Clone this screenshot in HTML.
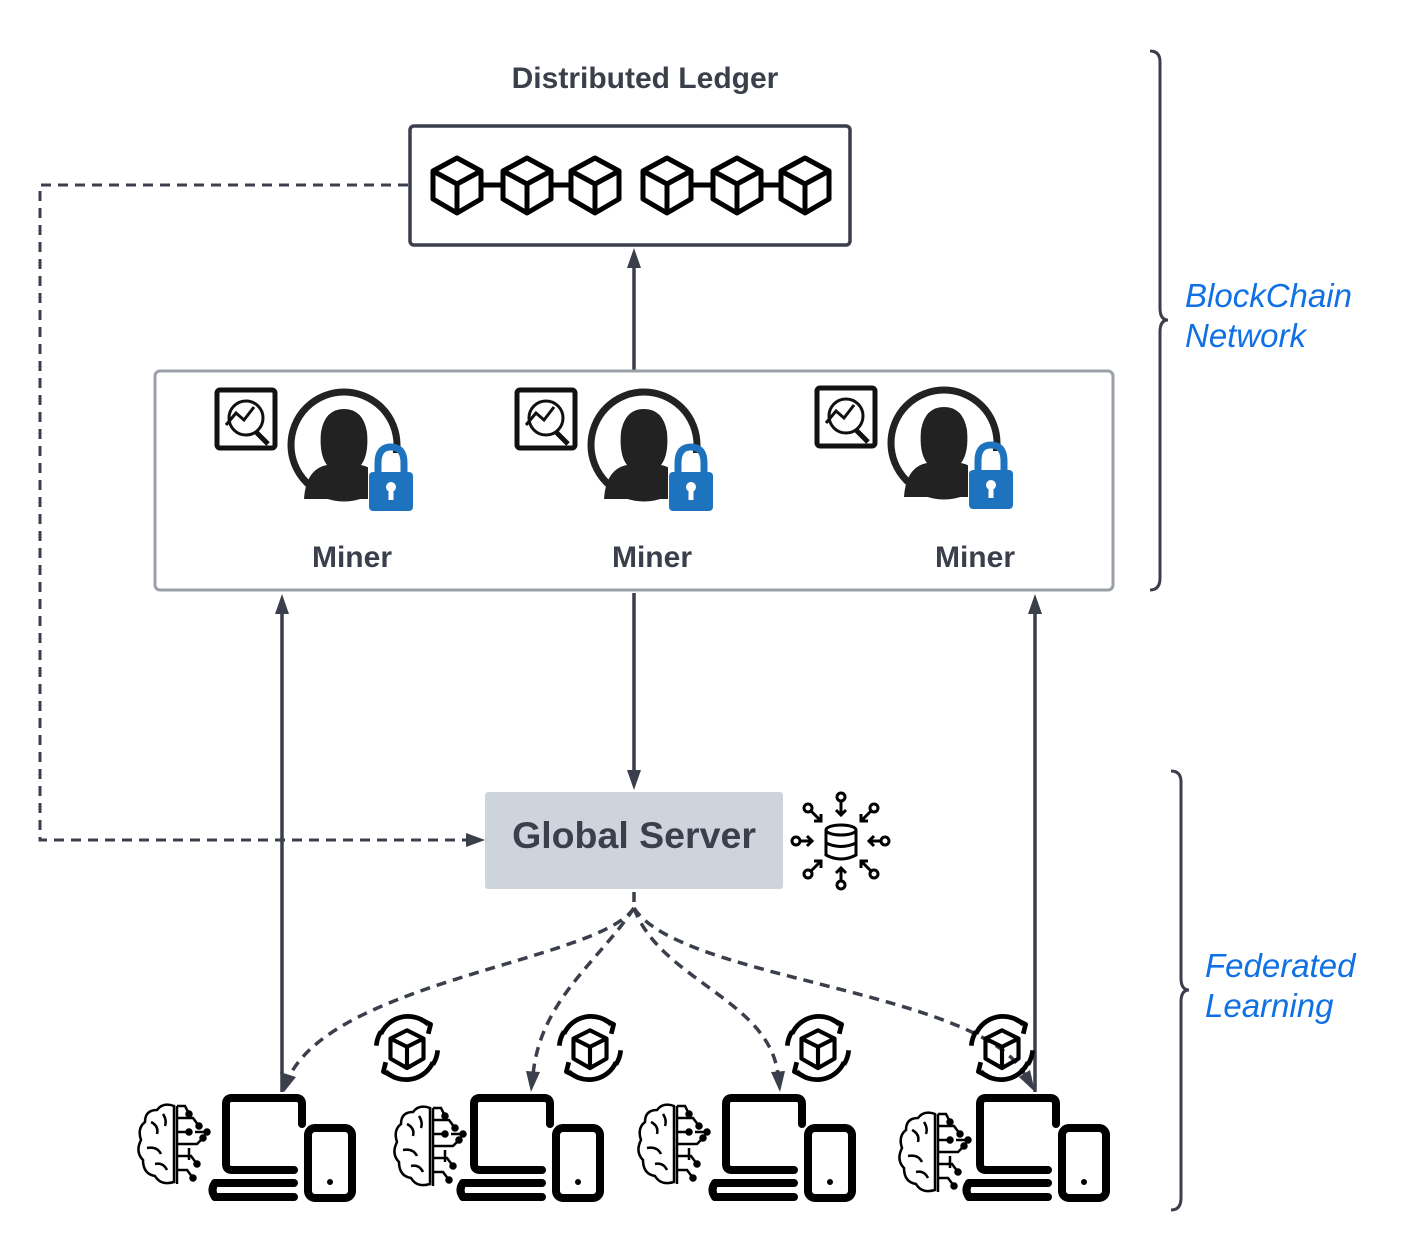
<!DOCTYPE html>
<html><head><style>
html,body{margin:0;padding:0;background:#fff;}
svg{display:block;font-family:"Liberation Sans",Arial,sans-serif;}
</style></head><body>
<svg width="1410" height="1255" viewBox="0 0 1410 1255" xmlns="http://www.w3.org/2000/svg">
<defs>
<g id="cube" fill="none" stroke="#000" stroke-width="5" stroke-linejoin="round">
<path d="M0,-27 L-24,-14 L-24,14 L0,28 L24,14 L24,-14 Z"/>
<path d="M-24,-14 L0,-1 L24,-14 M0,-1 L0,28"/>
</g>
<g id="miner">
<rect x="3" y="3" width="58" height="58" rx="3" fill="#fff" stroke="#111" stroke-width="5"/>
<circle cx="32" cy="31" r="17" fill="none" stroke="#111" stroke-width="3"/>
<path d="M12,38 L22,26 L30,33 L40,20" fill="none" stroke="#111" stroke-width="3"/>
<path d="M41,44 L54,57" stroke="#111" stroke-width="5"/>
<circle cx="130" cy="58" r="53" fill="none" stroke="#222" stroke-width="7"/>
<path d="M90,112 Q92,82 113,78 Q105,68 107,45 Q111,22 130,22 Q149,22 153,45 Q155,68 147,78 Q168,82 170,112 Z" fill="#222"/>
<rect x="154" y="66" width="46" height="58" rx="5" fill="#fff"/>
<path d="M164,86 L164,76 Q164,60 177,60 Q190,60 190,76 L190,86" fill="none" stroke="#1e73be" stroke-width="7"/>
<rect x="155" y="85" width="44" height="39" rx="4" fill="#1e73be"/>
<circle cx="177" cy="100" r="5" fill="#fff"/>
<rect x="174.5" y="100" width="5" height="13" fill="#fff"/>
</g>
<g id="dev" fill="none" stroke="#000" stroke-width="8" stroke-linecap="round" stroke-linejoin="round">
<path d="M90,30 L90,10 Q90,4 84,4 L20,4 Q14,4 14,10 L14,70 Q14,76 20,76 L82,76"/>
<path d="M3,89 L82,89 M3,103 L82,103"/>
<path d="M3,89 Q-2,96 3,103" />
<rect x="96" y="34" width="44" height="70" rx="7"/>
<circle cx="118" cy="88" r="3" fill="#000" stroke="none"/>
</g>
<g id="brain" fill="none" stroke="#000" stroke-width="2.5">
<path d="M37,4 Q26,0 20,8 Q8,8 8,20 Q0,26 4,38 Q-2,50 6,58 Q6,72 18,74 Q24,84 37,80 Z"/>
<path d="M14,20 Q22,24 20,32 M10,46 Q20,44 24,52 M18,62 Q26,60 30,68 M26,12 Q30,18 28,24"/>
<path d="M40,4 L48,4 L52,12 M40,16 L56,16 L62,24 M40,30 L52,30 M40,42 L60,42 L66,36 M40,54 L54,54 L60,62 M40,68 L50,68 L56,76 M58,30 L70,30 M52,46 L52,58"/>
<path d="M40,4 L40,82"/>
<circle cx="52" cy="12" r="2.5" fill="#000"/><circle cx="62" cy="24" r="2.5" fill="#000"/><circle cx="52" cy="30" r="2.5" fill="#000"/><circle cx="66" cy="36" r="2.5" fill="#000"/><circle cx="60" cy="62" r="2.5" fill="#000"/><circle cx="56" cy="76" r="2.5" fill="#000"/><circle cx="70" cy="30" r="2.5" fill="#000"/>
</g>
<g id="sync" fill="none" stroke="#000" stroke-linejoin="round" transform="scale(1.18)">
<path d="M-22,-12 A25,25 0 0 1 18,-20" stroke-width="4"/>
<path d="M22,12 A25,25 0 0 1 -18,20" stroke-width="4"/>
<path d="M-26,-2 A27,27 0 0 1 -22,-14" stroke-width="4"/>
<path d="M26,2 A27,27 0 0 1 22,14" stroke-width="4"/>
<path d="M12,-24 L20,-20 L18,-12" stroke-width="4"/>
<path d="M-12,24 L-20,20 L-18,12" stroke-width="4"/>
<path d="M0,-15 L-14,-8 L-14,9 L0,17 L14,9 L14,-8 Z M-14,-8 L0,-1 L14,-8 M0,-1 L0,17" stroke-width="3.5"/>
</g>
</defs>

<text x="645" y="88" text-anchor="middle" font-size="30" font-weight="bold" fill="#3a3f4b">Distributed Ledger</text>
<rect x="410" y="126" width="440" height="119" rx="4" fill="#fff" stroke="#3a3f4b" stroke-width="3.5"/>
<g stroke="#000" stroke-width="5">
<line x1="480" y1="185" x2="503" y2="185"/><line x1="550" y1="185" x2="572" y2="185"/>
<line x1="690" y1="185" x2="713" y2="185"/><line x1="760" y1="185" x2="782" y2="185"/>
</g>
<use href="#cube" x="457" y="185"/><use href="#cube" x="527" y="185"/><use href="#cube" x="595" y="185"/>
<use href="#cube" x="667" y="185"/><use href="#cube" x="737" y="185"/><use href="#cube" x="805" y="185"/>

<line x1="634" y1="370" x2="634" y2="262" stroke="#3a3f4b" stroke-width="3.5"/>
<path d="M627,268 L634,248 L641,268 Z" fill="#3a3f4b"/>

<rect x="155" y="371" width="958" height="219" rx="5" fill="#fff" stroke="#9aa0a8" stroke-width="3"/>
<use href="#miner" x="214" y="387"/>
<use href="#miner" x="514" y="387"/>
<use href="#miner" x="814" y="385"/>
<text x="352" y="567" text-anchor="middle" font-size="30" font-weight="bold" fill="#3a3f4b">Miner</text>
<text x="652" y="567" text-anchor="middle" font-size="30" font-weight="bold" fill="#3a3f4b">Miner</text>
<text x="975" y="567" text-anchor="middle" font-size="30" font-weight="bold" fill="#3a3f4b">Miner</text>

<path d="M1150,51 Q1160,51 1160,62 L1160,308 Q1160,320 1168,320 Q1160,320 1160,332 L1160,578 Q1160,590 1150,590" fill="none" stroke="#3a3f4b" stroke-width="3"/>
<path d="M1171,771 Q1181,771 1181,782 L1181,978 Q1181,990 1189,990 Q1181,990 1181,1002 L1181,1198 Q1181,1210 1171,1210" fill="none" stroke="#3a3f4b" stroke-width="3"/>
<text x="1185" y="307" font-size="33" font-style="italic" fill="#1071e5">BlockChain</text>
<text x="1185" y="347" font-size="33" font-style="italic" fill="#1071e5">Network</text>
<text x="1205" y="977" font-size="33" font-style="italic" fill="#1071e5">Federated</text>
<text x="1205" y="1017" font-size="33" font-style="italic" fill="#1071e5">Learning</text>

<g stroke="#3a3f4b" stroke-width="3.5" fill="none">
<line x1="282" y1="1092" x2="282" y2="610"/>
<line x1="1035" y1="1092" x2="1035" y2="610"/>
<line x1="634" y1="593" x2="634" y2="775"/>
</g>
<g fill="#3a3f4b">
<path d="M275,614 L282,594 L289,614 Z"/>
<path d="M1028,614 L1035,594 L1042,614 Z"/>
<path d="M627,770 L634,790 L641,770 Z"/>
</g>

<path d="M408,185 L40,185 L40,840 L470,840" fill="none" stroke="#3a3f4b" stroke-width="3" stroke-dasharray="10,7"/>
<path d="M466,833 L485,840 L466,847 Z" fill="#3a3f4b"/>

<rect x="485" y="792" width="298" height="97" rx="3" fill="#ced4dc"/>
<text x="634" y="848" text-anchor="middle" font-size="37.5" font-weight="bold" fill="#3a3f4b">Global Server</text>

<g fill="none" stroke="#000" stroke-width="3">
<ellipse cx="841" cy="830" rx="15" ry="5"/>
<path d="M826,830 L826,855 Q841,863 856,855 L856,830 M826,843 Q841,850 856,843"/>
<circle cx="841" cy="797" r="4"/><path d="M841,801 L841,815 M836,810 L841,815 L846,810"/>
<circle cx="841" cy="885" r="4"/><path d="M841,881 L841,868 M836,873 L841,868 L846,873"/>
<circle cx="796" cy="841" r="4"/><path d="M800,841 L812,841 M807,836 L812,841 L807,846"/>
<circle cx="885" cy="841" r="4"/><path d="M881,841 L869,841 M874,836 L869,841 L874,846"/>
<circle cx="808" cy="808" r="4"/><path d="M811,811 L821,821 M814,821 L821,821 L821,814"/>
<circle cx="874" cy="808" r="4"/><path d="M871,811 L861,821 M868,821 L861,821 L861,814"/>
<circle cx="808" cy="874" r="4"/><path d="M811,871 L821,861 M814,861 L821,861 L821,868"/>
<circle cx="874" cy="874" r="4"/><path d="M871,871 L861,861 M868,861 L861,861 L861,868"/>
</g>

<g fill="none" stroke="#3a3f4b" stroke-width="3.5" stroke-dasharray="10,7">
<line x1="634" y1="892" x2="634" y2="905"/>
<path d="M634,908 C600,960 340,980 290,1075"/>
<path d="M634,908 C600,960 540,1000 533,1075"/>
<path d="M634,908 C660,980 770,1000 778,1075"/>
<path d="M634,908 C680,980 980,990 1025,1075"/>
</g>
<g fill="#3a3f4b">
<path d="M280,1072 L284,1092 L296,1077 Z"/>
<path d="M526,1071 L531,1092 L540,1072 Z"/>
<path d="M771,1072 L780,1092 L785,1071 Z"/>
<path d="M1019,1077 L1035,1092 L1030,1070 Z"/>
</g>

<use href="#sync" x="407" y="1048"/>
<use href="#sync" x="590" y="1048"/>
<use href="#sync" x="818" y="1048"/>
<use href="#sync" x="1002" y="1048"/>

<use href="#brain" x="137" y="1102"/>
<use href="#brain" x="393" y="1104"/>
<use href="#brain" x="637" y="1102"/>
<use href="#brain" x="898" y="1110"/>

<use href="#dev" x="212" y="1094"/>
<use href="#dev" x="460" y="1094"/>
<use href="#dev" x="712" y="1094"/>
<use href="#dev" x="966" y="1094"/>
</svg>
</body></html>
